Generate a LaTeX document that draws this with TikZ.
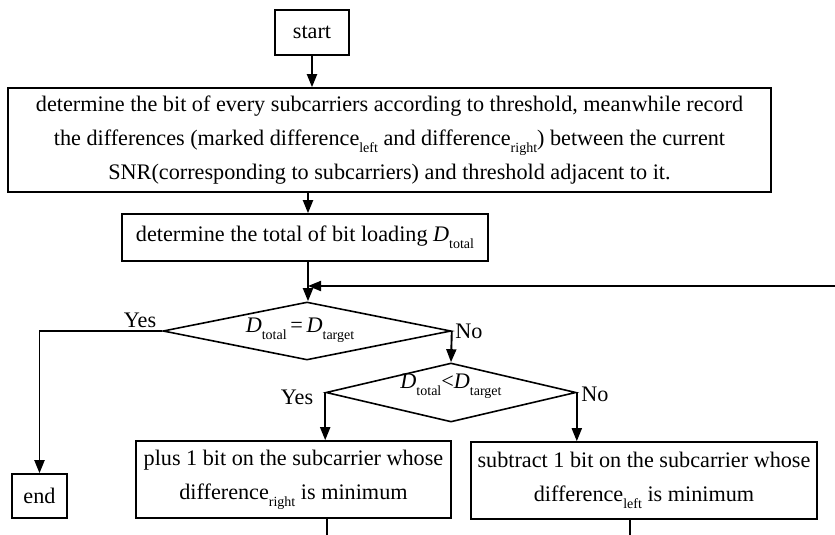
\documentclass[tikz,border=0pt]{standalone}
\usepackage{fontspec}
\setmainfont{Liberation Serif}
\usetikzlibrary{arrows.meta,shapes.geometric}
\newcommand\lsub[1]{\raisebox{-0.7ex}{\fontsize{14}{14}\selectfont #1}}
\begin{document}
\begin{tikzpicture}[x=1pt,y=1pt,
  every node/.style={font=\fontsize{22.2}{34}\selectfont},
  box/.style={draw, line width=1.6pt, inner sep=0pt, align=center},
  dec/.style={draw, diamond, line width=1.6pt, inner sep=0pt},
  flow/.style={line width=1.9pt, -{Triangle[length=13pt,width=10pt]}},
  plainline/.style={line width=1.7pt},
  lbl/.style={inner sep=0pt}]
\useasboundingbox (0,0) rectangle (835,-535);
\fill[white] (0,0) rectangle (835,-535);

\node[box, minimum width=74pt, minimum height=45pt] (start) at (312,-32.5) {start};
\node[box, minimum width=763pt, minimum height=104pt] (big) at (389.5,-140)
  {determine the bit of every subcarriers according to threshold, meanwhile record\\
   the differences (marked difference\lsub{left} and difference\lsub{right}) between the current\\
   SNR(corresponding to subcarriers) and threshold adjacent to it.};
\node[box, minimum width=366pt, minimum height=47pt] (box2) at (305,-237.5)
  {determine the total of bit loading \textit{D}\lsub{total}};
\node[dec, minimum width=288pt, minimum height=58pt] (d1) at (307,-331) {};
\node[lbl] (d1t) at (300,-330) {\textit{D}\lsub{total}\,=\,\textit{D}\lsub{target}};
\node[dec, minimum width=250pt, minimum height=59pt] (d2) at (451,-392.5) {};
\node[lbl] (d2t) at (451,-386) {\textit{D}\lsub{total}<\textit{D}\lsub{target}};
\node[box, minimum width=315pt, minimum height=77pt] (plus) at (293.5,-479.5)
  {plus 1 bit on the subcarrier whose\\ difference\lsub{right} is minimum};
\node[box, minimum width=346pt, minimum height=77pt] (sub) at (644,-480.5)
  {subtract 1 bit on the subcarrier whose\\ difference\lsub{left} is minimum};
\node[box, minimum width=55pt, minimum height=44pt] (end) at (39.5,-496) {end};

\node[lbl] (yes1) at (140,-320) {Yes};
\node[lbl] (no1) at (469,-331) {No};
\node[lbl] (yes2) at (297,-397) {Yes};
\node[lbl] (no2) at (595,-394) {No};

\coordinate (fx) at (308,0);
\coordinate (loopin) at (835,-286);
\coordinate (pout) at (327,-535);
\coordinate (sout) at (630,-535);

\draw[flow] (start.south) -- (start.south |- big.north);
\draw[flow] (big.south -| fx) -- (box2.north -| fx);
\draw[flow] (box2.south -| fx) -- (d1.north -| fx);
\draw[flow] (loopin) -- (loopin -| fx);
\draw[flow] (d1.west) -- (d1.west -| end.north) -- (end.north);
\draw[flow] (d1.east) -- (d2.north);
\draw[flow] (d2.west) -- (plus.north -| d2.west);
\draw[flow] (d2.east) -- (sub.north -| d2.east);
\draw[plainline] (plus.south -| pout) -- (pout);
\draw[plainline] (sub.south -| sout) -- (sout);
\end{tikzpicture}
\end{document}
